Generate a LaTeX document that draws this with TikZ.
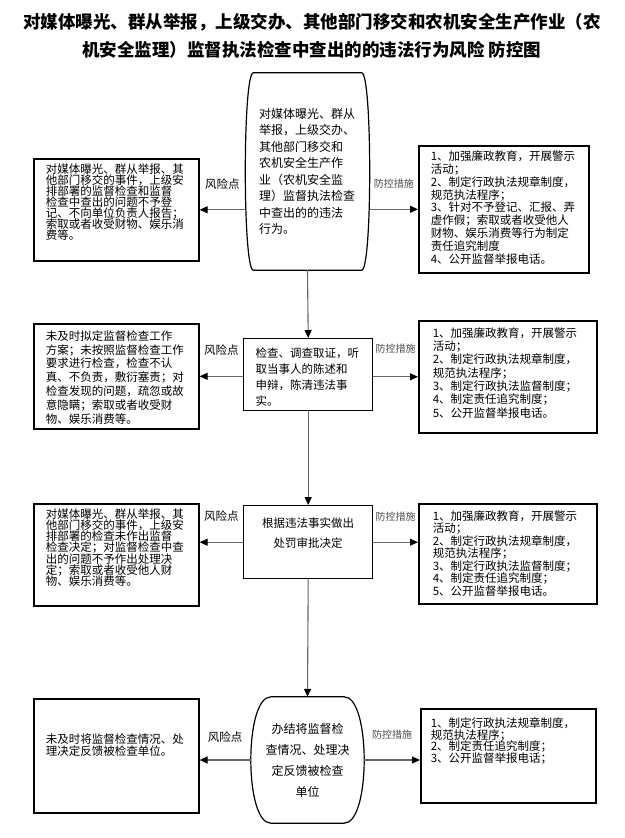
\documentclass[tikz,border=0pt]{standalone}
\usepackage{fontspec}
\setmainfont{Noto Sans CJK SC}
\usetikzlibrary{arrows.meta,calc}
\newcommand\boxtext[5][\raggedright]{\parbox[c][#3pt][t]{#2pt}{\lineskiplimit=-100pt\vspace*{#4pt}#1#5}}
\newcommand\barrel[2]{\draw[line width=1.2pt] ($(#1.north west)+(#2,0)$) -- ($(#1.north east)+(-#2,0)$)
	.. controls ($(#1.north east)+(#2/3,0)$) and ($(#1.south east)+(#2/3,0)$) .. ($(#1.south east)+(-#2,0)$)
	-- ($(#1.south west)+(#2,0)$)
	.. controls ($(#1.south west)+(-#2/3,0)$) and ($(#1.north west)+(-#2/3,0)$) .. cycle;}
\begin{document}
\begin{tikzpicture}[x=1pt,y=-1pt,
	side/.style={draw,line width=1.6pt,anchor=north west,inner xsep=12pt,inner ysep=0pt,font=\fontsize{11.5}{11}\selectfont},
	mid/.style={draw,line width=1.4pt,anchor=north west,inner xsep=12pt,inner ysep=0pt,font=\fontsize{11.5}{16}\selectfont},
	term/.style={inner sep=0pt},
	link/.style={draw=black!60,line width=1.1pt,-{Triangle[length=8pt,width=7pt,color=black]}},
	risk/.style={font=\fontsize{11.5}{12}\selectfont,yshift=26pt},
	guard/.style={font=\fontsize{10}{12}\selectfont,text=black!70,yshift=26pt}]
	\useasboundingbox (0,0) rectangle (624,838);
	\node[font=\fontsize{17.5}{28}\selectfont\bfseries,align=center] (title) at (312,36) {对媒体曝光、群从举报，上级交办、其他部门移交和农机安全生产作业（农\\机安全监理）监督执法检查中查出的的违法行为风险 防控图};
	\node[term,minimum width=124pt,minimum height=197pt,font=\fontsize{12}{16.5}\selectfont,align=left,text width=97pt] (s1) at (307.5,171.5) {对媒体曝光、群从\\举报，上级交办、\\其他部门移交和\\农机安全生产作\\业（农机安全监\\理）监督执法检查\\中查出的的违法\\行为。};
	\barrel{s1}{8}
	\node[mid] (b2) at (243,338) {\boxtext{105}{72}{9.5}{检查、调查取证，听\\取当事人的陈述和\\申辩，陈清违法事\\实。}};
	\node[mid,font=\fontsize{11.5}{20}\selectfont] (b3) at (243,505) {\boxtext[\centering]{105}{73}{11.6}{根据违法事实做出\\处罚审批决定}};
	\node[term,minimum width=113pt,minimum height=126pt,font=\fontsize{12}{21}\selectfont,align=center] (s4) at (307.5,760) {办结将监督检\\查情况、处理决\\定反馈被检查\\单位};
	\barrel{s4}{20}
	\node[side] (l1) at (33,158) {\boxtext{141}{102}{4.8}{对媒体曝光、群从举报、其\\他部门移交的事件，上级安\\排部署的监督检查和监督\\检查中查出的问题不予登\\记、不向单位负责人报告；\\索取或者收受财物、娱乐消\\费等。}};
	\node[side,font=\fontsize{11.5}{13.8}\selectfont] (l2) at (33,323) {\boxtext{141}{105}{6.8}{未及时拟定监督检查工作\\方案；未按照监督检查工作\\要求进行检查，检查不认\\真、不负责，敷衍塞责；对\\检查发现的问题，疏忽或故\\意隐瞒；索取或者收受财\\物、娱乐消费等。}};
	\node[side,font=\fontsize{11.5}{11.2}\selectfont] (l3) at (33,503) {\boxtext{141}{102}{4.8}{对媒体曝光、群从举报、其\\他部门移交的事件，上级安\\排部署的检查未作出监督\\检查决定；对监督检查中查\\出的问题不予作出处理决\\定；索取或者收受他人财\\物、娱乐消费等。}};
	\node[side,font=\fontsize{11.5}{12}\selectfont] (l4) at (33,698) {\boxtext{141}{114}{34.8}{未及时将监督检查情况、处\\理决定反馈被检查单位。}};
	\node[side,font=\fontsize{11.5}{12.9}\selectfont] (r1) at (418,145) {\boxtext{146}{127}{4.8}{1、加强廉政教育，开展警示\\活动；\\2、制定行政执法规章制度，\\规范执法程序；\\3、针对不予登记、汇报、弄\\虚作假；索取或者收受他人\\财物、娱乐消费等行为制定\\责任追究制度\\4、公开监督举报电话。}};
	\node[side,inner xsep=14pt,font=\fontsize{11.5}{13.3}\selectfont] (r2) at (418,320) {\boxtext{150}{112}{6.8}{1、加强廉政教育，开展警示\\活动；\\2、制定行政执法规章制度，\\规范执法程序；\\3、制定行政执法监督制度；\\4、制定责任追究制度；\\5、公开监督举报电话。}};
	\node[side,inner xsep=14pt,font=\fontsize{11.5}{12.5}\selectfont] (r3) at (418,503) {\boxtext{150}{100}{6.8}{1、加强廉政教育，开展警示\\活动；\\2、制定行政执法规章制度，\\规范执法程序；\\3、制定行政执法监督制度；\\4、制定责任追究制度；\\5、公开监督举报电话。}};
	\node[side,inner xsep=10pt,font=\fontsize{11.5}{11.7}\selectfont] (r4) at (420,708) {\boxtext{155}{94}{8.8}{1、制定行政执法规章制度，\\规范执法程序；\\2、制定责任追究制度；\\3、公开监督举报电话；}};
	\draw[link] (s1.south) -- (b2.north);
	\draw[link] (b2.south) -- (b3.north);
	\draw[link] (b3.south) -- (s4.north);
	\draw[link] (s1.west |- l1.east) -- (l1.east) node[risk,midway]{风险点};
	\draw[link] (s1.east |- r1.west) -- (r1.west) node[guard,midway]{防控措施};
	\draw[link] (l2.east -| b2.west) -- (l2.east) node[risk,midway]{风险点};
	\draw[link] (r2.west -| b2.east) -- (r2.west) node[guard,midway,yshift=2pt]{防控措施};
	\draw[link] (b3.west) -- (b3.west -| l3.east) node[risk,midway]{风险点};
	\draw[link] (b3.east) -- (b3.east -| r3.west) node[guard,midway]{防控措施};
	\draw[link] (s4.west) -- (s4.west -| l4.east) node[risk,midway,yshift=-3pt]{风险点};
	\draw[link] (s4.east) -- (s4.east -| r4.west) node[guard,midway,yshift=-1pt]{防控措施};
\end{tikzpicture}
\end{document}
